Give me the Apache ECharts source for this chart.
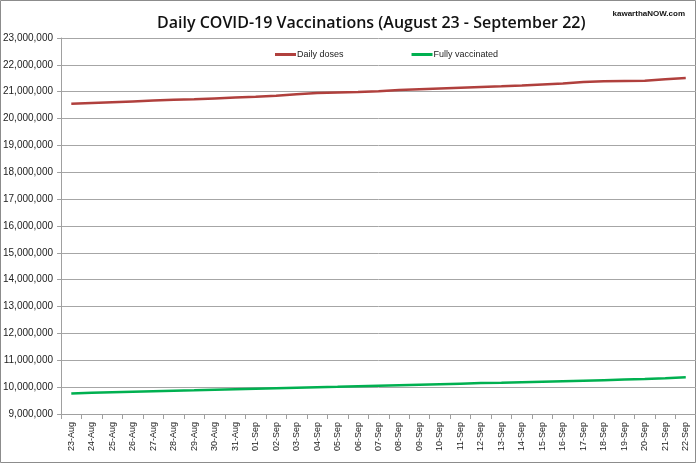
<!DOCTYPE html>
<html><head><meta charset="utf-8">
<script src="https://cdn.jsdelivr.net/npm/echarts@6/dist/echarts.min.js"></script>
<style>html,body{margin:0;padding:0;background:#fff}#c{width:696px;height:464px}</style>
</head><body><div id="c"></div>
<script>
const categories = ['23-Aug','24-Aug','25-Aug','26-Aug','27-Aug','28-Aug','29-Aug','30-Aug','31-Aug',
  '01-Sep','02-Sep','03-Sep','04-Sep','05-Sep','06-Sep','07-Sep','08-Sep','09-Sep','10-Sep','11-Sep',
  '12-Sep','13-Sep','14-Sep','15-Sep','16-Sep','17-Sep','18-Sep','19-Sep','20-Sep','21-Sep','22-Sep'];
const dailyDoses = [20550000,20580000,20610000,20640000,20670000,20700000,20720000,20750000,20780000,
  20810000,20850000,20910000,20950000,20970000,20990000,21020000,21060000,21090000,21120000,21150000,
  21180000,21200000,21230000,21270000,21310000,21360000,21390000,21400000,21410000,21460000,21510000];
const fullyVaccinated = [9760000,9790000,9810000,9830000,9850000,9870000,9880000,9900000,9920000,
  9940000,9960000,9980000,10000000,10010000,10030000,10050000,10070000,10090000,10110000,10130000,
  10150000,10160000,10180000,10200000,10220000,10240000,10260000,10280000,10300000,10330000,10370000];
const yMin = 9000000, yMax = 23000000, yStep = 1000000;

const chart = echarts.init(document.getElementById('c'), null, {renderer:'canvas'});
const fmt = v => v.toString().replace(/\B(?=(\d{3})+(?!\d))/g, ',');
chart.setOption({
  animation:false,
  backgroundColor:'#fff',
  title:[{text:'Daily COVID-19 Vaccinations (August 23 - September 22)', left:152, top:10,
    textStyle:{fontFamily:'Open Sans', fontWeight:600, fontSize:16, color:'#111'}},
    {text:'kawarthaNOW.com', right:6, top:5, textStyle:{fontFamily:'Liberation Sans', fontWeight:'bold', fontSize:8, color:'#111'}}],
  legend:{top:45, left:270, itemGap:68, itemWidth:21, itemHeight:3, icon:'rect',
    textStyle:{fontFamily:'Liberation Sans', fontSize:9, color:'#222', padding:[0,0,0,-4]},
    data:['Daily doses','Fully vaccinated']},
  grid:{left:59, right:0, top:38, bottom:50, containLabel:false},
  xAxis:{type:'category', data:categories, boundaryGap:true,
    axisLine:{lineStyle:{color:'#a0a0a0'}},
    axisTick:{show:true, length:5, interval:0, lineStyle:{color:'#a0a0a0'}},
    axisLabel:{rotate:90, interval:0, fontFamily:'Liberation Sans', fontSize:9, color:'#222', margin:8}},
  yAxis:{type:'value', min:yMin, max:yMax, interval:yStep,
    axisLine:{show:true, lineStyle:{color:'#a0a0a0'}},
    axisTick:{show:true, length:4, lineStyle:{color:'#a0a0a0'}},
    splitLine:{lineStyle:{color:'#a6a6a6', width:1}},
    axisLabel:{formatter:fmt, fontFamily:'Liberation Sans', fontSize:10, color:'#222', margin:8}},
  series:[
    {name:'Daily doses', type:'line', data:dailyDoses, showSymbol:false, symbol:'none',
      lineStyle:{color:'#b0403d', width:2.5}, itemStyle:{color:'#b0403d'}},
    {name:'Fully vaccinated', type:'line', data:fullyVaccinated, showSymbol:false, symbol:'none',
      lineStyle:{color:'#00b050', width:2.5}, itemStyle:{color:'#00b050'}}
  ],
  graphic:[{type:'rect', shape:{x:0.5,y:0.5,width:695,height:462}, style:{fill:null, stroke:'#8c8c8c', lineWidth:1}, silent:true}]
});
</script></body></html>
